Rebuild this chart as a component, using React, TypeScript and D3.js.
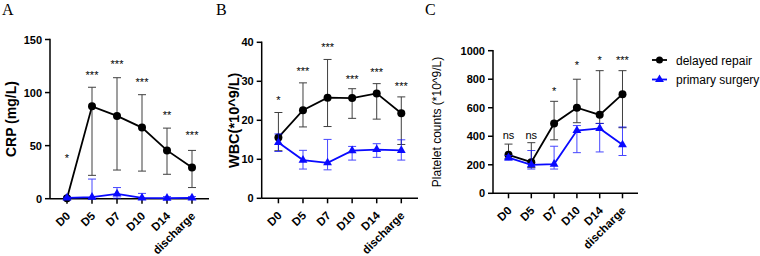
import React from 'react';
import * as d3 from 'd3';

// time points shared by all three panels
const categories = ['D0', 'D5', 'D7', 'D10', 'D14', 'discharge'];

// CRP (mg/L)
const crpDelayed = [0.5, 87, 78, 67, 45.5, 29.5];
const crpDelayedHi = [1.5, 105, 114, 98, 66.5, 45.5];
const crpDelayedLo = [0, 22, 27, 26, 23, 10.5];
const crpPrimary = [0.8, 1.5, 4.5, 0.8, 0.5, 0.8];
const crpPrimaryHi = [1.5, 18.5, 10.5, 5, 2, 2];
const crpPrimaryLo = [0, 0, 0.5, 0, 0, 0];
const crpSig = ['*', '***', '***', '***', '**', '***'];
const crpSigAt = [40, 118, 129, 112, 81, 62];

// WBC (*10^9/L)
const wbcDelayed = [15.6, 22.6, 25.8, 25.7, 26.9, 21.8];
const wbcDelayedHi = [22, 29.6, 35.6, 28.1, 29.4, 26];
const wbcDelayedLo = [12.2, 18.3, 18.4, 20.5, 20.3, 13.8];
const wbcPrimary = [14.3, 9.8, 9.1, 12.2, 12.5, 12.3];
const wbcPrimaryHi = [16.5, 12.3, 15.1, 13.3, 14, 15];
const wbcPrimaryLo = [12, 7.5, 7.3, 9.8, 10.5, 9.8];
const wbcSig = ['*', '***', '***', '***', '***', '***'];
const wbcSigAt = [25.7, 33.2, 39.2, 31, 32.9, 29.3];

// Platelet counts (*10^9/L)
const pltDelayed = [270, 218, 490, 600, 550, 695];
const pltDelayedHi = [345, 355, 645, 800, 860, 860];
const pltDelayedLo = [245, 180, 375, 495, 490, 460];
const pltPrimary = [250, 200, 205, 440, 455, 340];
const pltPrimaryHi = [265, 300, 330, 475, 490, 465];
const pltPrimaryLo = [232, 170, 170, 285, 290, 265];
const pltSig = ['ns', 'ns', '*', '*', '*', '***'];
const pltSigAt = [407, 407, 734, 916, 951, 951];

const seriesNames = ['delayed repair', 'primary surgery'];

const SANS = '"Liberation Sans", Arial, Helvetica, sans-serif';
const BLACK = '#000';
const BLUE = '#0a0aff';

const triangle = d3.symbol(d3.symbolTriangle, 34)();

type PanelProps = {
  letter: string;
  letterX: number;
  yLabel: string;
  yLabelBold: boolean;
  yLabelSize: number;
  yLabelX: number;
  left: number;
  right: number;
  top: number;
  bottom: number;
  yMax: number;
  yStep: number;
  delayed: number[];
  delayedHi: number[];
  delayedLo: number[];
  primary: number[];
  primaryHi: number[];
  primaryLo: number[];
  sig: string[];
  sigAt: number[];
};

const Panel = (p: PanelProps) => {
  const x = d3.scalePoint<string>().domain(categories).range([p.left, p.right]).padding(0.68);
  const y = d3.scaleLinear().domain([0, p.yMax]).range([p.bottom, p.top]);
  const ticks = d3.range(0, p.yMax + p.yStep / 2, p.yStep);
  const line = d3
    .line<number>()
    .x((_, i) => x(categories[i]) as number)
    .y(d => y(d));

  const errorBars = (hi: number[], lo: number[], color: string) =>
    categories.map((c, i) => {
      const cx = x(c) as number;
      return (
        <g key={c} stroke={color} strokeWidth={1} opacity={0.75}>
          <line x1={cx} x2={cx} y1={y(hi[i])} y2={y(lo[i])} />
          <line x1={cx - 4} x2={cx + 4} y1={y(hi[i])} y2={y(hi[i])} />
          <line x1={cx - 4} x2={cx + 4} y1={y(lo[i])} y2={y(lo[i])} />
        </g>
      );
    });

  const midY = (p.top + p.bottom) / 2;

  return (
    <g>
      <text x={p.letterX} y={15} fontFamily='"Liberation Serif", "Times New Roman", serif' fontSize={16}>
        {p.letter}
      </text>
      <text
        transform={`translate(${p.yLabelX},${midY}) rotate(-90)`}
        textAnchor="middle"
        fontFamily={SANS}
        fontWeight={p.yLabelBold ? 'bold' : 'normal'}
        fontSize={p.yLabelSize}
      >
        {p.yLabel}
      </text>

      {/* axes */}
      <g stroke={BLACK} strokeWidth={1.5} fill="none">
        <line x1={p.left} x2={p.left} y1={p.top - 0.75} y2={p.bottom} />
        <line x1={p.left} x2={p.right} y1={p.bottom} y2={p.bottom} />
        {ticks.map(t => (
          <line key={t} x1={p.left - 5} x2={p.left} y1={y(t)} y2={y(t)} />
        ))}
        {categories.map(c => (
          <line key={c} x1={x(c)} x2={x(c)} y1={p.bottom} y2={p.bottom + 5} />
        ))}
      </g>
      {ticks.map(t => (
        <text key={t} x={p.left - 8} y={y(t) + 4} textAnchor="end" fontFamily={SANS} fontWeight="bold" fontSize={11}>
          {t}
        </text>
      ))}
      {categories.map(c => (
        <text
          key={c}
          transform={`translate(${(x(c) as number) + 4},${p.bottom + 18}) rotate(-45)`}
          textAnchor="end"
          fontFamily={SANS}
          fontWeight="bold"
          fontSize={11.5}
        >
          {c}
        </text>
      ))}

      {/* delayed repair */}
      {errorBars(p.delayedHi, p.delayedLo, BLACK)}
      <path d={line(p.delayed) ?? ''} fill="none" stroke={BLACK} strokeWidth={1.8} />
      {p.delayed.map((v, i) => (
        <circle key={i} cx={x(categories[i])} cy={y(v)} r={4} fill={BLACK} />
      ))}

      {/* primary surgery */}
      {errorBars(p.primaryHi, p.primaryLo, BLUE)}
      <path d={line(p.primary) ?? ''} fill="none" stroke={BLUE} strokeWidth={1.8} />
      {p.primary.map((v, i) => (
        <path key={i} d={triangle ?? ''} transform={`translate(${x(categories[i])},${y(v)})`} fill={BLUE} />
      ))}

      {/* significance marks */}
      {p.sig.map((s, i) => (
        <text
          key={i}
          x={x(categories[i])}
          y={y(p.sigAt[i]) + (s === 'ns' ? 3.5 : 6)}
          textAnchor="middle"
          fontFamily={SANS}
          fontSize={11}
          fill={BLACK}
        >
          {s}
        </text>
      ))}
    </g>
  );
};

const Legend = ({ x, y }: { x: number; y: number }) => (
  <g fontFamily={SANS} fontSize={12}>
    <line x1={x} x2={x + 15} y1={y} y2={y} stroke={BLACK} strokeWidth={1.8} />
    <circle cx={x + 7.5} cy={y} r={3.5} fill={BLACK} />
    <text x={x + 24} y={y + 4.5}>{seriesNames[0]}</text>
    <line x1={x} x2={x + 15} y1={y + 19.5} y2={y + 19.5} stroke={BLUE} strokeWidth={1.8} />
    <path d={triangle ?? ''} transform={`translate(${x + 7.5},${y + 19.5})`} fill={BLUE} />
    <text x={x + 24} y={y + 24}>{seriesNames[1]}</text>
  </g>
);

export default function App() {
  return (
    <svg width={760} height={256} style={{ position: 'absolute', left: 0, top: 0, background: '#fff' }}>
      <Panel
        letter="A"
        letterX={2}
        yLabel="CRP (mg/L)"
        yLabelBold
        yLabelSize={14}
        yLabelX={16}
        left={50}
        right={209}
        top={39.5}
        bottom={198.7}
        yMax={150}
        yStep={50}
        delayed={crpDelayed}
        delayedHi={crpDelayedHi}
        delayedLo={crpDelayedLo}
        primary={crpPrimary}
        primaryHi={crpPrimaryHi}
        primaryLo={crpPrimaryLo}
        sig={crpSig}
        sigAt={crpSigAt}
      />
      <Panel
        letter="B"
        letterX={216}
        yLabel="WBC(*10^9/L)"
        yLabelBold
        yLabelSize={14.5}
        yLabelX={239}
        left={261.7}
        right={418}
        top={42.3}
        bottom={198.3}
        yMax={40}
        yStep={10}
        delayed={wbcDelayed}
        delayedHi={wbcDelayedHi}
        delayedLo={wbcDelayedLo}
        primary={wbcPrimary}
        primaryHi={wbcPrimaryHi}
        primaryLo={wbcPrimaryLo}
        sig={wbcSig}
        sigAt={wbcSigAt}
      />
      <Panel
        letter="C"
        letterX={425}
        yLabel="Platelet counts (*10^9/L)"
        yLabelBold={false}
        yLabelSize={12}
        yLabelX={441}
        left={493}
        right={638}
        top={50.7}
        bottom={193.3}
        yMax={1000}
        yStep={200}
        delayed={pltDelayed}
        delayedHi={pltDelayedHi}
        delayedLo={pltDelayedLo}
        primary={pltPrimary}
        primaryHi={pltPrimaryHi}
        primaryLo={pltPrimaryLo}
        sig={pltSig}
        sigAt={pltSigAt}
      />
      <Legend x={652} y={60} />
    </svg>
  );
}
